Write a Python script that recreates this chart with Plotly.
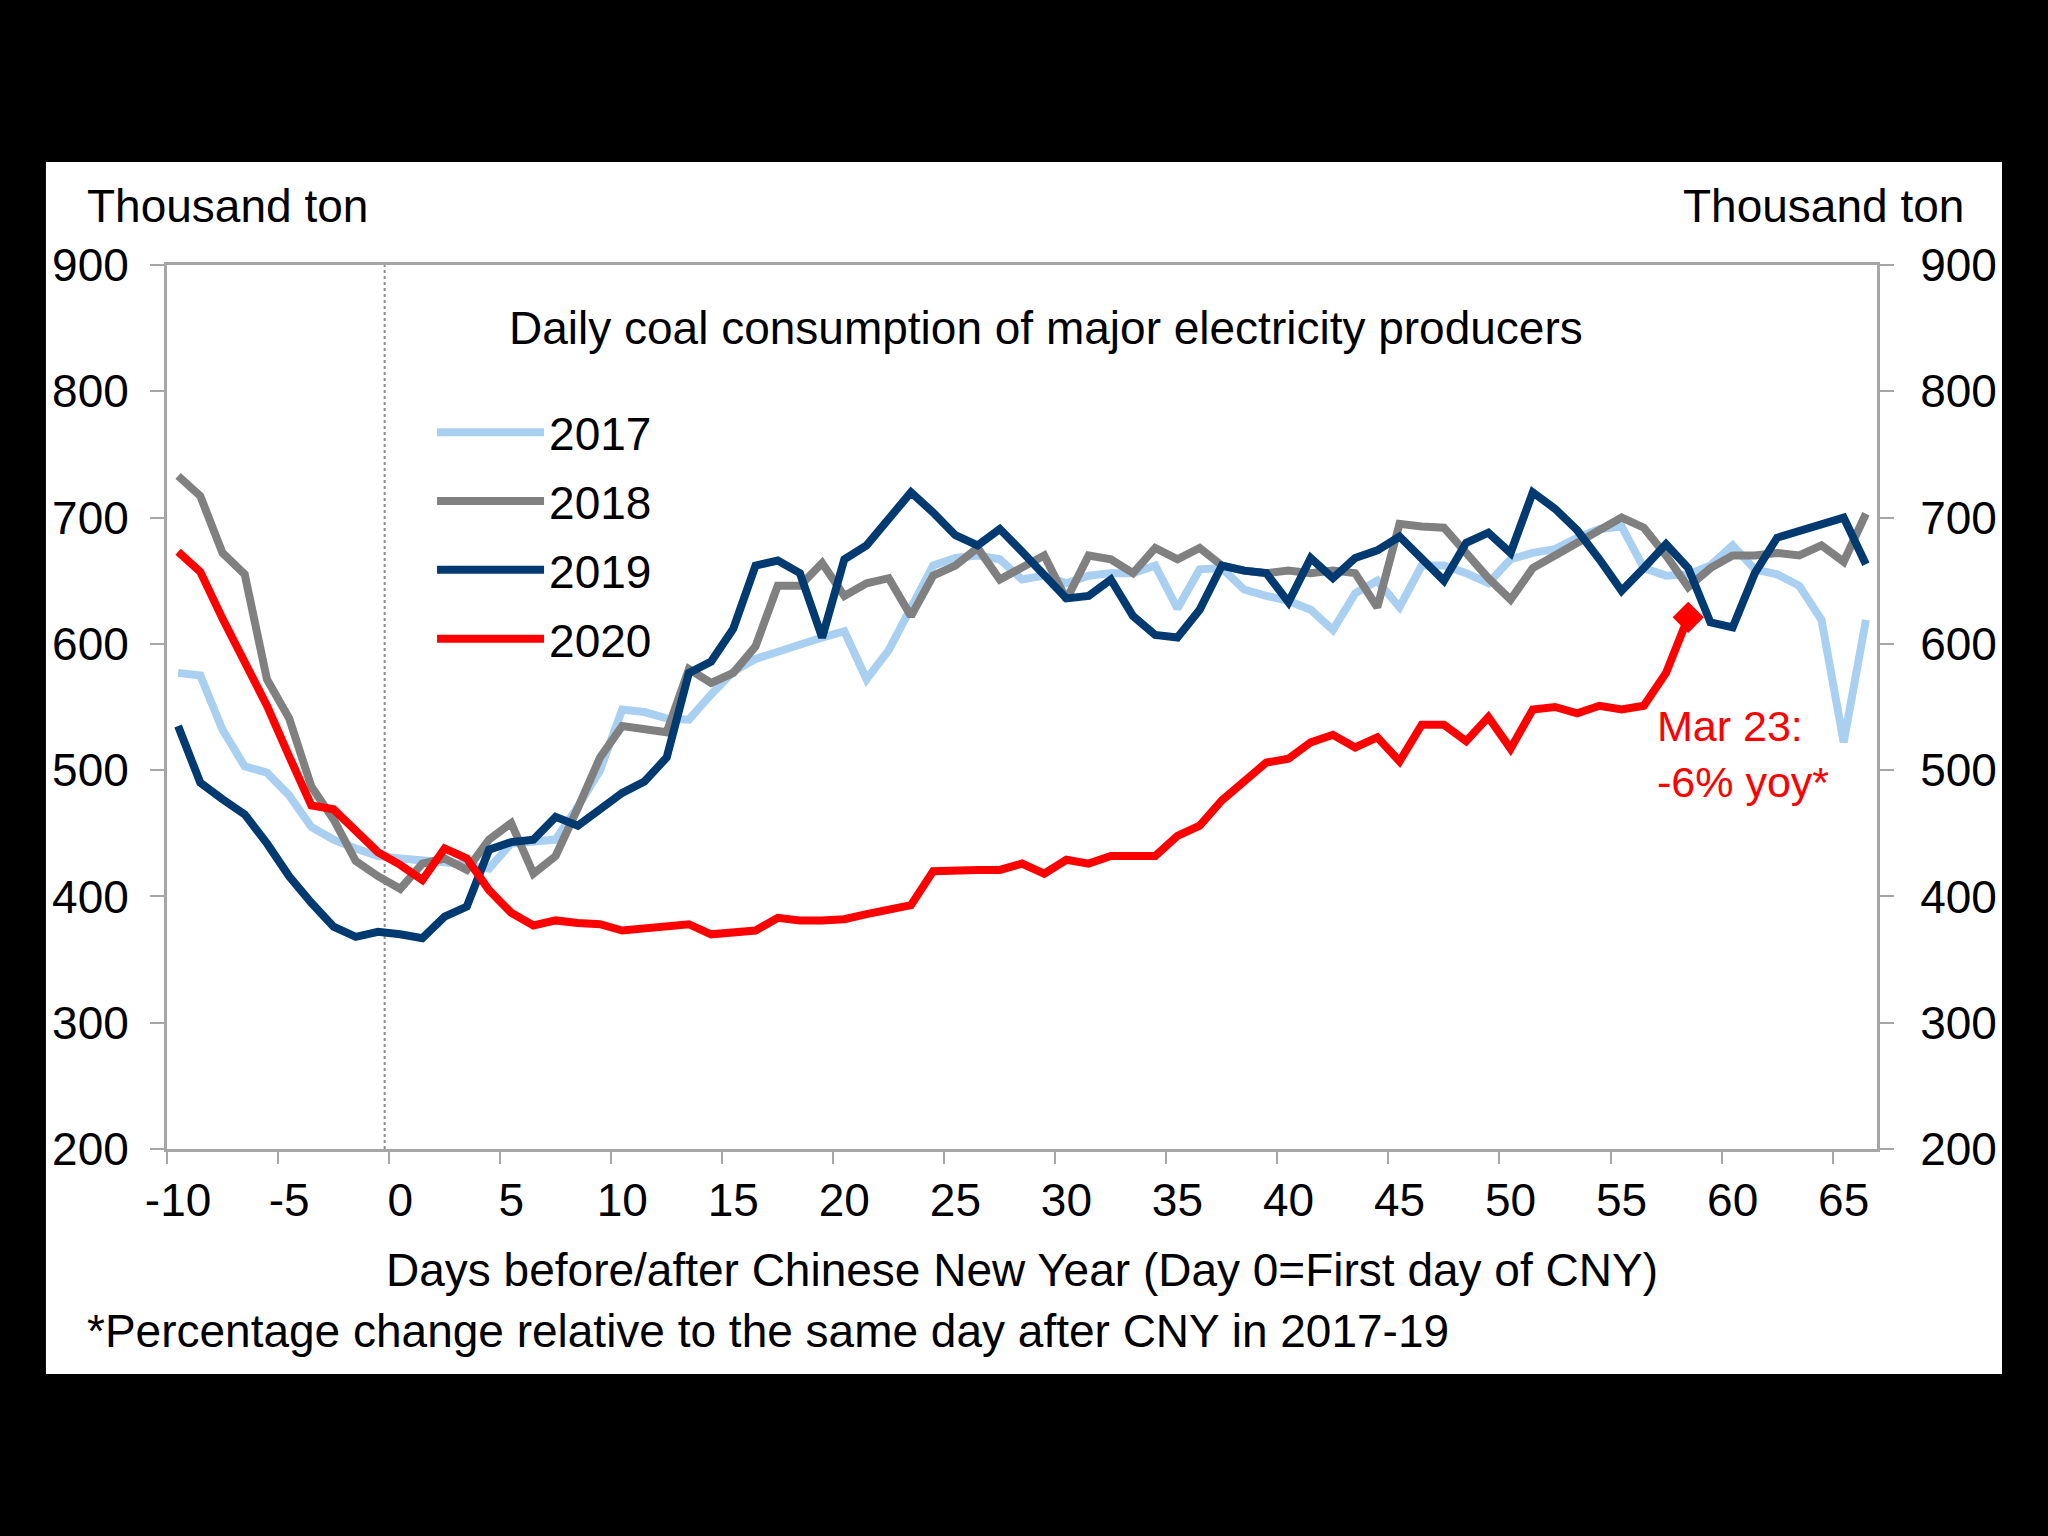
import plotly.graph_objects as go

# ---------------- data ----------------
days = list(range(-10, 67))

y2017 = [577, 575, 532, 503, 498, 480, 455, 445, 438, 432,
         430, 429, 427, 425, 422, 442, 443, 445, 471, 500,
         548, 546, 541, 540, 560, 578, 588, 594, 600, 605,
         610, 572, 595, 630, 662, 668, 670, 667, 651, 654,
         648, 654, 656, 656, 662, 628, 659, 660, 643, 638,
         634, 627, 611, 640, 650, 629, 662, 662, 656, 648,
         667, 672, 675, 684, 691, 693, 660, 654, 655, 662,
         678, 659, 655, 646, 619, 522, 619]

y2018 = [733, 717, 672, 655, 572, 541, 487, 461, 428, 416,
         406, 426, 430, 421, 445, 458, 418, 432, 470, 510,
         535, 533, 530, 580, 569, 577, 598, 646, 646, 664,
         638, 648, 652, 622, 654, 662, 676, 651, 660, 670,
         635, 670, 667, 656, 676, 667, 676, 662, 658, 656,
         658, 656, 658, 656, 629, 695, 693, 692, 672, 652,
         635, 660, 670, 680, 690, 700, 692, 670, 645, 660,
         670, 670, 672, 670, 678, 665, 703]

y2019 = [535, 490, 477, 465, 442, 416, 395, 376, 368, 372,
         370, 367, 384, 392, 437, 443, 445, 463, 456, 470,
         482, 491, 510, 577, 586, 612, 662, 666, 656, 605,
         667, 678, 700, 720, 704, 686, 678, 691, 673, 655,
         636, 638, 651, 622, 607, 605, 627, 662, 658, 656,
         633, 668, 652, 668, 674, 685, 667, 650, 680, 688,
         672, 720, 707, 690, 667, 642, 660, 679, 660, 617,
         613, 656, 684, 689, 694, 700, 663]

y2020 = [673, 657, 620, 585, 551, 511, 472, 469, 451, 435,
         425, 413, 438, 430, 405, 387, 377, 381, 379, 378,
         373, 375, 376, 378, 370, 372, 373, 383, 381, 381,
         382, 386, 389, 393, 420, 421, 421, 421, 426, 418,
         429, 426, 432, 432, 432, 448, 456, 476, 492, 506,
         509, 522, 528, 518, 526, 507, 536, 536, 523, 542,
         517, 548, 550, 545, 551, 548, 551, 577, 621]
days2020 = days[:len(y2020)]

series_names = ["2017", "2018", "2019", "2020"]
x_tick_vals = list(range(-10, 66, 5))
x_tick_text = [str(v) for v in x_tick_vals]
y_tick_vals = list(range(200, 901, 100))
y_tick_text = [str(v) for v in y_tick_vals]

# ---------------- styles ----------------
colors = ["#A9D0F0", "#808080", "#003A70", "#FF0000"]
FONT = "Liberation Sans, Arial, sans-serif"
FS = 46
AXC = "#A6A6A6"

fig = go.Figure()
for name, ys, xs, col in zip(series_names, [y2017, y2018, y2019, y2020],
                             [days, days, days, days2020], colors):
    fig.add_trace(go.Scatter(x=xs, y=ys, name=name, mode="lines",
                             legendgroup=name,
                             line=dict(color=col, width=8)))

# end-point marker of the 2020 series
fig.add_trace(go.Scatter(x=[days2020[-1]], y=[y2020[-1]], mode="markers",
                         showlegend=False, yaxis="y2",
                         marker=dict(symbol="diamond", size=24, color=colors[3])))

axis_common = dict(showgrid=False, zeroline=False, showline=True,
                   linecolor=AXC, linewidth=3)

fig.update_layout(
    width=2048, height=1536,
    paper_bgcolor="black", plot_bgcolor="white",
    margin=dict(l=167, r=171, t=265, b=387),
    font=dict(family=FONT, size=FS, color="black"),
    xaxis=dict(range=[-10.5, 66.5], tickmode="array", tickvals=x_tick_vals,
               ticktext=x_tick_text, ticks="", mirror=True,
               minor=dict(tick0=-10.5, dtick=5, ticks="outside", ticklen=12,
                          tickcolor=AXC, tickwidth=2),
               ticklabelstandoff=9,
               title=dict(text="Days before/after Chinese New Year (Day 0=First day of CNY)",
                          font=dict(size=FS), standoff=29),
               **axis_common),
    yaxis=dict(range=[200, 900], tickmode="array", tickvals=y_tick_vals,
               ticktext=y_tick_text, ticks="outside", ticklen=14,
               tickcolor=AXC, tickwidth=2, ticklabelstandoff=12, **axis_common),
    yaxis2=dict(range=[200, 900], matches="y", overlaying="y", side="right",
                tickmode="array", tickvals=y_tick_vals, ticktext=y_tick_text,
                ticks="outside", ticklen=14, tickcolor=AXC, tickwidth=2,
                ticklabelstandoff=17, **axis_common),
    legend=dict(x=0.155, y=0.852, xanchor="left", yanchor="top",
                bgcolor="rgba(0,0,0,0)", font=dict(size=FS),
                itemwidth=107, tracegroupgap=6, traceorder="grouped"),
)

# white panel behind the chart
fig.add_shape(type="rect", xref="paper", yref="paper",
              x0=-0.0708, x1=1.0731, y0=-0.2545, y1=1.1165,
              fillcolor="white", line=dict(width=0), layer="below")
# dotted CNY marker line
fig.add_shape(type="line", xref="x", yref="paper", x0=-0.7, x1=-0.7, y0=0, y1=1,
              line=dict(color="#8C8C8C", width=2, dash="dot"), layer="below")

ann = [
    dict(text="Thousand ton", xref="paper", yref="paper", x=-0.048, y=1.0667,
         xanchor="left", yanchor="middle", showarrow=False),
    dict(text="Thousand ton", xref="paper", yref="paper", x=1.052, y=1.0667,
         xanchor="right", yanchor="middle", showarrow=False),
    dict(text="Daily coal consumption of major electricity producers",
         xref="paper", yref="paper", x=0.514, y=0.9287,
         xanchor="center", yanchor="middle", showarrow=False),
    dict(text="*Percentage change relative to the same day after CNY in 2017-19",
         xref="paper", yref="paper", x=-0.048, y=-0.206,
         xanchor="left", yanchor="middle", showarrow=False),
    dict(text="Mar 23:<br>-6% yoy*", xref="x", yref="y", x=56.5, y=513,
         xanchor="left", yanchor="middle", align="left", showarrow=False,
         font=dict(color="#FF0000", size=43)),
]
for a in ann:
    fig.add_annotation(**a)

fig.write_html("out.html", config={"displayModeBar": False},
               post_script="document.body.style.margin='0';document.body.style.overflow='hidden';document.body.style.background='black';")
